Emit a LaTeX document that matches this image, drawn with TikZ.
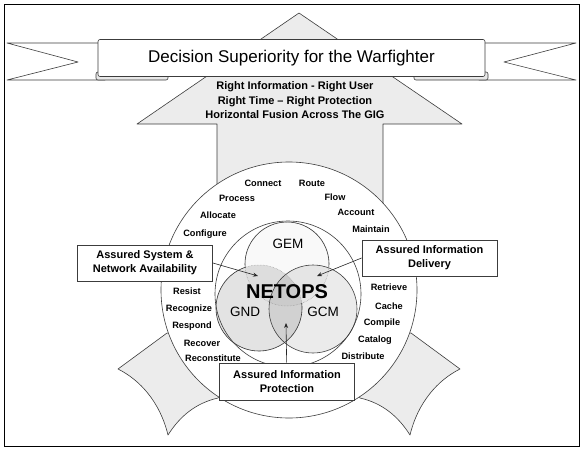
\documentclass[tikz,border=0pt]{standalone}
\usepackage{fontspec}
\setmainfont{Liberation Sans}
\usetikzlibrary{arrows.meta,positioning,calc}
\definecolor{shade}{RGB}{236,236,236}
\definecolor{rim}{RGB}{60,60,60}
\tikzset{
  every picture/.style={x=1pt,y=-1pt},
  sheet/.style={draw=rim,fill=shade,line width=0.6pt,line join=round},
  ribbon/.style={draw=rim,fill=white,line width=0.6pt,line join=round},
  ring/.style={font=\fontsize{9.2}{11}\selectfont\bfseries,inner sep=0pt},
  motto/.style={font=\fontsize{11}{14.5}\selectfont\bfseries,align=center,inner sep=0pt},
  box/.style={draw=rim,fill=white,line width=0.8pt,minimum width=135pt,minimum height=36pt,
    align=center,font=\fontsize{11}{14}\selectfont\bfseries,inner sep=2pt},
  venn/.style={draw=rim,line width=0.6pt},
  faintline/.style={draw=black!40,line width=0.5pt,densely dotted},
  venntext/.style={font=\fontsize{13.5}{15}\selectfont,inner sep=0pt},
  pointer/.style={-{Stealth[length=5pt,width=4pt]},line width=0.6pt,draw=black!85},
}

\begin{document}
\begin{tikzpicture}
  \useasboundingbox (0,0) rectangle (584,450);
  \draw[line width=1pt] (4,4) rectangle (579,446);

  % lower ribbons behind the ring
  \draw[sheet] (167,333) -- (118,369) .. controls (140,380) and (160,402) .. (168,435)
    .. controls (180,416) and (196,403) .. (218,398) -- (250,340) -- cycle;
  \draw[sheet] (411,333) -- (460,369) .. controls (438,380) and (418,402) .. (410,435)
    .. controls (398,416) and (382,403) .. (360,398) -- (328,340) -- cycle;

  % big arrow
  \draw[sheet] (299,13) -- (462,124) -- (383,124) -- (383,240) -- (217,240)
    -- (217,124) -- (137,124) -- cycle;

  % banner
  \draw[ribbon] (7,43) -- (105,43) -- (105,80) -- (7,80) -- (78,62) -- cycle;
  \draw[ribbon] (576,43) -- (479,43) -- (479,80) -- (576,80) -- (504,62) -- cycle;
  \draw[ribbon,fill=gray!18,rounded corners=2pt] (96,72) rectangle (168,80);
  \draw[ribbon,fill=gray!18,rounded corners=2pt] (414,72) rectangle (488,80);
  \node[ribbon,rounded corners=2pt,minimum width=387pt,minimum height=37pt,
    font=\fontsize{17}{20}\selectfont,inner sep=0pt] (title) at (291.5,58)
    {Decision Superiority for the Warfighter};
  \node[motto] (motto) at (295,100.5) {Right Information - Right User\\
    Right Time -- Right Protection\\Horizontal Fusion Across The GIG};

  % rings and the three domains
  \draw[venn,fill=white] (289,290) circle[radius=128pt];
  \draw[venn,fill=white] (288,294) circle[radius=73pt];
  \fill[gray!5] (287,264) circle[radius=42pt];
  \fill[black,opacity=0.11] (259,308) circle[radius=43pt];
  \fill[black,opacity=0.08] (313,309) circle[radius=44pt];
  \draw[faintline] (287,264) circle[radius=42pt];
  \draw[venn] (287,264) ++(-5:42pt) arc[start angle=-5,end angle=185,radius=42pt];
  \draw[faintline] (259,308) circle[radius=43pt];
  \draw[venn] (259,308) ++(108:43pt) arc[start angle=108,end angle=367,radius=43pt];
  \draw[venn] (313,309) circle[radius=44pt];

  \node[venntext] (gem) at (288,244) {GEM};
  \node[venntext] (gnd) at (245,312) {GND};
  \node[venntext] (gcm) at (323,312) {GCM};
  \node[font=\fontsize{20}{22}\selectfont\bfseries,inner sep=0pt] (netops) at (287,292) {NETOPS};

  \foreach \x/\y/\w [count=\i] in {263/183/Connect, 312/183/Route, 237/198/Process,
      335/197/Flow, 218/215/Allocate, 356/212/Account, 205/234/Configure, 371/229/Maintain,
      187/291/Resist, 189/309/Recognize, 192/326/Respond, 202/343/Recover,
      213/358/Reconstitute, 389/287/Retrieve, 389/306/Cache, 382/323/Compile,
      375/340/Catalog, 363/356/Distribute}
    \node[ring] (w\i) at (\x,\y) {\w};

  % the three assurance boxes
  \coordinate (gndtip) at (258,276);
  \coordinate (gcmtip) at (317,276);
  \coordinate (midtip) at (286,323);
  \node[box] (sysbox) at (145,263) {Assured System \&\\Network Availability};
  \node[box] (delbox) at (429.5,258) {Assured Information\\Delivery};
  \node[box,minimum height=37pt] (probox) at (287,381.5) {Assured Information\\Protection};
  \draw[pointer] (sysbox.east) -- (gndtip);
  \draw[pointer] (delbox.west) -- (gcmtip);
  \draw[pointer] (probox) -- (midtip);
\end{tikzpicture}
\end{document}
